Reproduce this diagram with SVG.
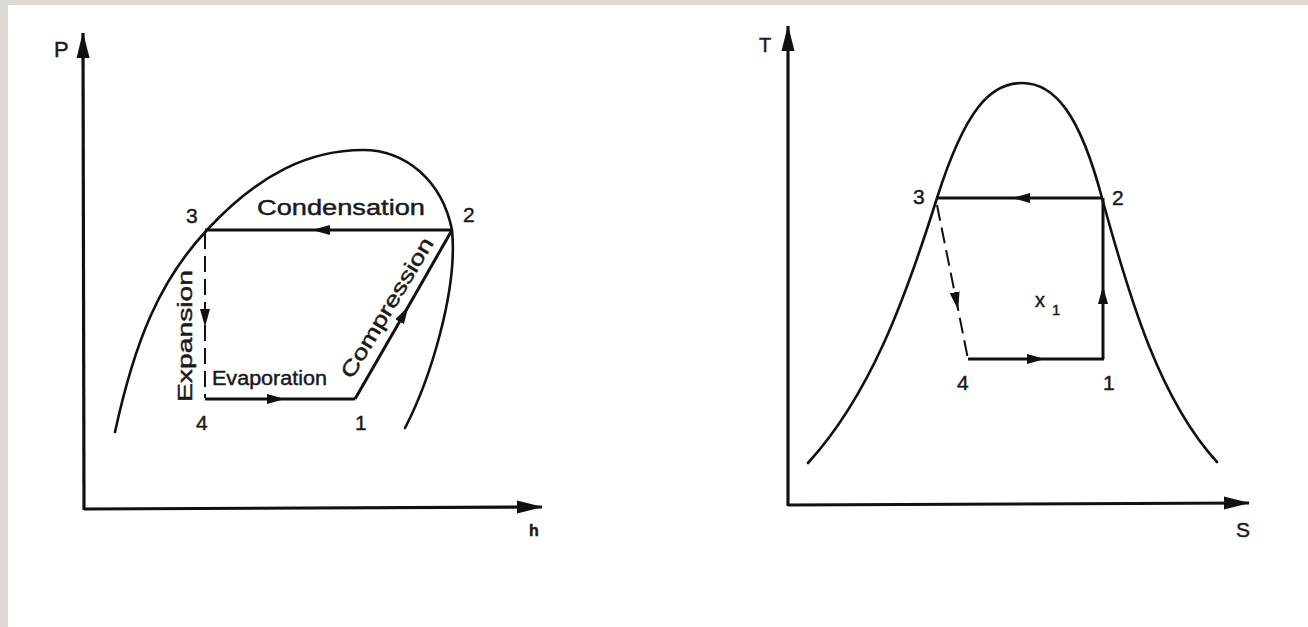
<svg xmlns="http://www.w3.org/2000/svg" width="1308" height="627" viewBox="0 0 1308 627">
<style>
.ax{stroke:#111;stroke-width:3.2;fill:none}
.dome{stroke:#111;stroke-width:2.6;fill:none;stroke-linecap:round}
.cyc{stroke:#111;stroke-width:3;fill:none}
.dash{stroke:#111;stroke-width:2;fill:none;stroke-dasharray:16 7}
text{font-family:"Liberation Sans",Arial,sans-serif;fill:#1a1a1a;stroke:#1a1a1a;stroke-width:0.45}
.num{font-size:21px}
.lbl{font-size:21px}
</style>
<defs>
<marker id="axhead" markerUnits="userSpaceOnUse" markerWidth="26" markerHeight="16" viewBox="0 0 26 16" refX="25" refY="8" orient="auto">
<path d="M0,1.5 L26,8 L0,14.5 Z" fill="#111"/>
</marker>
<marker id="mid" markerUnits="userSpaceOnUse" markerWidth="18" markerHeight="11" viewBox="0 0 18 11" refX="17" refY="5.5" orient="auto">
<path d="M0,0.5 L18,5.5 L0,10.5 Z" fill="#111"/>
</marker>
</defs>
<rect width="1308" height="627" fill="#dcd9d3"/>
<rect x="8" y="5" width="1300" height="622" fill="#ffffff"/>

<g id="ph-axes">
<path class="ax" d="M84,510 L83,33" marker-end="url(#axhead)"/>
<path class="ax" d="M84,509 L542,507" marker-end="url(#axhead)"/>
<text x="54" y="57" style="font-size:22px">P</text>
<text x="529" y="536" style="font-size:16px;font-weight:bold">h</text>
</g>
<g id="ph-dome">
<path class="dome" d="M115,432 C135,340 160,280 207,230 C260,173 310,150 363,150 C405,150 442,180 452,230 C458,290 430,380 405,428"/>
</g>
<g id="ts-axes">
<path class="ax" d="M788,506 L788,26" marker-end="url(#axhead)"/>
<path class="ax" d="M788,505 L1249,503" marker-end="url(#axhead)"/>
<text x="759" y="52" style="font-size:20px">T</text>
<text x="1236" y="537" style="font-size:21px">S</text>
</g>
<g id="ts-dome">
<path class="dome" d="M808,463 C870,395 905,300 937,198 C965,110 990,83 1022,83 C1055,83 1080,115 1102,198 C1130,300 1160,400 1217,462"/>
</g>

<g id="connectors">
<path class="cyc" d="M452,230 L313,230 L205,230" marker-mid="url(#mid)"/>
<path class="cyc" d="M205,399 L284,399 L355,399" marker-mid="url(#mid)"/>
<path class="cyc" d="M355,399 L408,307 L452,230" marker-mid="url(#mid)"/>
<path class="dash" d="M205,233 L205,326 L205,398" marker-mid="url(#mid)"/>
<path class="cyc" d="M1103,198 L1013,198 L937,198" marker-mid="url(#mid)"/>
<path class="cyc" d="M968,359 L1044,359 L1104,359" marker-mid="url(#mid)"/>
<path class="cyc" d="M1103,359 L1103,287 L1103,198" marker-mid="url(#mid)"/>
<path class="dash" d="M937,205 L958,309 L968,359" marker-mid="url(#mid)"/>
</g>

<g id="ph-state-3"><text class="num" x="186" y="223">3</text></g>
<g id="ph-state-2"><text class="num" x="463" y="222">2</text></g>
<g id="ph-state-4"><text class="num" x="196" y="430">4</text></g>
<g id="ph-state-1"><text class="num" x="355" y="430">1</text></g>
<g id="ph-condensation"><text class="lbl" x="257" y="215" textLength="168" lengthAdjust="spacingAndGlyphs" style="font-size:22px">Condensation</text></g>
<g id="ph-evaporation"><text class="lbl" x="212" y="385" textLength="115" lengthAdjust="spacingAndGlyphs" style="font-size:20px">Evaporation</text></g>
<g id="ph-expansion"><text class="lbl" transform="translate(192,402) rotate(-90)" textLength="132" lengthAdjust="spacingAndGlyphs" style="font-size:21px">Expansion</text></g>
<g id="ph-compression"><text class="lbl" transform="translate(352,380) rotate(-59)" textLength="160" lengthAdjust="spacingAndGlyphs" style="font-size:21px">Compression</text></g>

<g id="ts-state-3"><text class="num" x="913" y="204">3</text></g>
<g id="ts-state-2"><text class="num" x="1112" y="205">2</text></g>
<g id="ts-state-4"><text class="num" x="957" y="390">4</text></g>
<g id="ts-state-1"><text class="num" x="1103" y="390">1</text></g>
<g id="ts-x1"><text x="1035" y="307" style="font-size:20px">x</text><text x="1052" y="315" style="font-size:15px">1</text></g>
</svg>
